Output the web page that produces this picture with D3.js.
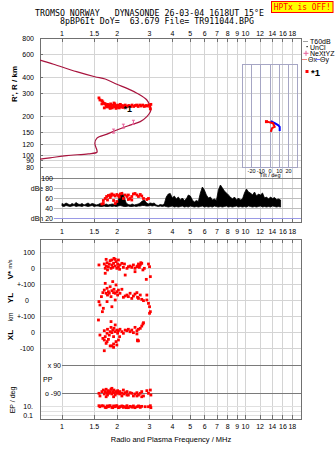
<!DOCTYPE html>
<html><head><meta charset="utf-8">
<script src="https://cdn.jsdelivr.net/npm/d3@7"></script>
<style>body{margin:0;background:#fff}svg{display:block}text{font-family:"Liberation Sans",Arial,sans-serif}</style>
</head><body><svg id="c" width="335" height="451"></svg>
<script>
// ---------- data ----------
const freqTicks = [1,1.5,2,3,4,5,6,7,8,9,10,12,14,16,18];
const heightTicks = [800,600,400,300,200,150,120,100,90,80];
const dbTicks = [100,80,60,40,20];
const dbTickLabels = ["100","dBe 80","60","40","dBn 20"];
const tiltTicks = [-20,-10,0,10,20];

// real-height profile
const profFreq = [0.76,0.90,1.20,1.51,1.72,1.99,2.26,2.56,2.90,3.03,3.05,3.03,2.90,2.67,2.35,1.99,1.76,1.55,1.51,1.55,1.55,1.39,1.06,0.86,0.76];
const profHeight = [540,502,440,402,386,352,327,300,266,236,227,216,198,181,170,156,145,135,123,109,105,102,99,95,93];

// NeXtYZ marks
const nxFreq = [1.91,2.16,2.45];
const nxHeight = [153,167,179];

// O-mode echoes (virtual height)
const echoFreq = [1.59,1.61,1.65,1.67,1.70,1.72,1.74,1.75,1.77,1.78,1.81,1.82,1.84,1.85,1.88,1.89,1.91,1.94,1.95,1.97,2.00,2.02,2.05,2.08,2.10,2.13,2.15,2.18,2.24,2.28,2.32,2.37,2.41,2.46,2.51,2.55,2.60,2.65,2.70,2.75,2.81,2.86,2.91,2.97,3.01,3.03,3.05,1.70,1.65,1.83,1.97,2.05,1.92,2.21];
const echoHeight = [276,266,263,257,250,248,241,235,246,237,243,233,248,239,231,243,237,248,235,241,233,243,237,246,235,241,233,239,235,239,241,237,243,237,241,243,237,243,239,243,237,241,239,243,237,227,246,231,248,229,229,231,252,243];

// amplitude trace (dB)
const ampFreq = [1.000,1.025,1.052,1.078,1.106,1.134,1.163,1.193,1.223,1.254,1.286,1.319,1.353,1.387,1.422,1.459,1.496,1.534,1.573,1.613,1.654,1.696,1.739,1.784,1.829,1.876,1.923,1.972,2.023,2.074,2.127,2.181,2.237,2.294,2.352,2.412,2.474,2.537,2.601,2.668,2.736,2.805,2.877,2.950,3.025,3.103,3.182,3.263,3.346,3.431,3.519,3.608,3.700,3.795,3.891,3.990,4.092,4.196,4.303,4.413,4.525,4.641,4.759,4.880,5.005,5.132,5.263,5.397,5.535,5.676,5.820,5.968,6.121,6.277,6.436,6.600,6.769,6.941,7.118,7.299,7.485,7.676,7.872,8.072,8.278,8.489,8.705,8.927,9.154,9.388,9.627,9.872,10.12,10.38,10.65,10.92,11.20,11.48,11.77,12.07,12.38,12.70,13.02,13.35,13.69,14.04,14.40,14.77,15.14,15.53];
const ampHi = [49,47,50,48,46,49,47,51,48,47,49,46,48,50,47,49,48,46,47,49,
  47,46,48,46,47,48,47,49, 55,68,72,62, 50,47,46,48,46,47,48, 50,54,56,51, 48,50,49,50,46,45, 47,46,48,
  62,68,69,60,64, 58,62,56,60, 55,58,66,64, 56,52,55,53, 70,82,76, 66,60,62,56, 58,55, 76,86,80, 74,70,66,62,
  58,62,56,60, 56,58, 70,78,72, 70,66,72,64,68,66,70, 60,62,58,62,59,61, 57,58,56];
const ampLo = [44,43,45,44,43,44,45,43,44,44,43,45,44,43,44,45,43,44,44,43,
  43,44,43,43,44,43,44,43, 44,45,44,43, 43,44,43,43,44,43,44, 44,45,45,44, 44,45,44,45,44,43, 44,43,44,
  43,42,43,44,42,43,42,43,44,42, 43,42,44,43,42,43,42,43,44,42, 43,42,43,42,44,43,42,43,42,43,
  44,42,43,42,43,44,42,43,42,43, 42,44,43,42,43,42,43,44,42,43, 42,43,42,44,43,42,43,42];

// O-mode echo amplitude
const echoDbFreq = [1.65,1.68,1.72,1.75,1.79,1.83,1.87,1.91,1.95,1.99,2.03,2.08,2.12,1.83,1.95,1.99,1.77,1.68,2.21,2.26,2.30,2.35,2.40,2.45,2.50,2.56,2.61,2.67,2.72,2.78,2.90,2.96,2.40,2.30,2.16,1.91,1.85,2.05];
const echoDb = [48,55,59,63,65,66,68,66,64,67,65,68,69,61,49,53,56,49,66,63,66,59,63,68,69,66,63,67,64,59,57,59,56,57,59,55,64,62];

// V* (m/s)
const vFreq = [1.59,1.70,1.72,1.74,1.76,1.77,1.79,1.81,1.83,1.85,1.87,1.89,1.91,1.92,1.95,1.97,1.99,2.01,2.03,2.06,2.07,2.12,2.16,2.19,2.21,2.26,2.30,2.35,2.40,2.45,2.50,2.56,2.61,2.64,2.67,2.72,2.76,2.81,2.88,2.96,3.00,3.03,1.72,1.74,1.95,1.87,2.03,2.50,2.58,2.69];
const vVal = [19,25,-2,12,33,-12,8,25,46,-2,19,4,29,60,12,40,-2,25,8,-8,19,29,4,25,-44,-2,8,12,4,19,-2,8,25,4,19,29,-12,-2,-71,25,8,-54,-33,54,54,50,50,-23,12,33];

// YL (km)
const ylFreq = [1.59,1.61,1.64,1.67,1.70,1.72,1.74,1.76,1.77,1.79,1.81,1.83,1.85,1.87,1.89,1.91,1.92,1.95,1.97,1.99,2.01,2.03,2.07,2.12,2.16,2.21,2.26,2.30,2.35,2.40,2.45,2.50,2.56,2.58,2.61,2.67,2.72,2.78,2.90,2.96,3.00,3.03,3.00,1.58,1.66,1.68,1.76,1.87,1.95,2.90];
const ylVal = [-10,-31,21,46,62,104,42,73,31,52,42,83,21,58,115,46,67,42,94,52,31,62,42,67,17,25,31,21,42,10,25,37,46,17,10,31,4,-4,0,-21,-42,-73,-83,-125,-73,-52,-10,-42,0,31];

// XL (km)
const xlFreq = [1.61,1.67,1.70,1.70,1.72,1.74,1.76,1.77,1.79,1.81,1.83,1.85,1.87,1.89,1.91,1.92,1.95,1.97,1.99,2.01,2.03,2.06,2.07,2.12,2.16,2.21,2.26,2.30,2.35,2.40,2.45,2.50,2.56,2.58,2.61,2.67,2.72,2.76,2.78,1.85,1.87,1.91,1.99,1.95,2.56,1.70,1.76,1.83,1.91,2.03,2.58,2.61];
const xlVal = [-19,-40,-50,8,-29,-71,-8,17,-46,-19,2,29,-4,12,-29,23,2,-60,12,-8,8,-29,17,2,-8,12,8,17,2,12,-4,29,-12,-50,17,23,37,50,58,65,-87,-96,-81,44,8,-117,-60,-87,-75,-50,-55,-55];

// PP (deg)
const ppFreq = [1.59,1.61,1.65,1.68,1.70,1.72,1.74,1.76,1.77,1.79,1.81,1.83,1.85,1.87,1.89,1.91,1.92,1.95,1.97,1.99,2.01,2.03,2.06,2.07,2.12,2.16,2.18,2.21,2.26,2.30,2.35,2.40,2.45,2.50,2.56,2.61,2.67,2.72,2.78,2.90,2.96,3.03,3.05,1.74,1.87,1.91,2.12,2.26,2.56,2.72];
const ppVal = [-92,-109,-81,-71,-96,-81,-66,-88,-103,-75,-92,-81,-66,-96,-81,-88,-71,-103,-81,-92,-75,-88,-96,-81,-92,-71,-96,-88,-81,-103,-88,-92,-109,-96,-88,-103,-92,-81,-109,-75,-92,-71,-103,-114,-60,-114,-109,-103,-109,-114];

// EP
const epFreq = [1.59,1.61,1.68,1.72,1.76,1.79,1.83,1.87,1.91,1.95,1.99,2.03,2.07,2.12,2.16,2.21,2.26,2.30,2.35,2.40,2.45,2.50,2.56,2.61,2.67,2.72,2.84,2.96,3.03,3.05,1.65,1.74,1.81,1.89,1.97,2.06,2.14,2.24,2.43,2.64];
const epVal = [17,10,15,7,15,10,17,7,15,10,17,6,10,15,7,10,17,6,12,8.5,15,6,10,15,7,12,10,10,17,6,17,6,15,6,15,8.5,12,6,8.5,12];

// tilt traces (deg, km)
const thxDeg = [-3.3,3.3,5.1,2.2,0.8];
const thxHeight = [181,176,165,161,151];
const thyDeg = [0.8,5.1,8.7,10.5,10.5];
const thyHeight = [183,176,170,165,153];

// ---------- drawing ----------
const svg = d3.select("#c");
const L = 40, R = 301, T1 = 38, B1 = 222, T2 = 239, B2 = 419;
const X = d3.scaleLog().domain([1,10]).range([62,245.5]);
const YH = d3.scaleLog().domain([100,1000]).range([155,25.5]);
const YDB = d3.scaleLinear().domain([20,100]).range([218,178]);
const YV = d3.scaleLinear().domain([-100,100]).range([284,252]);
const YYL = d3.scaleLinear().domain([-100,100]).range([316,284]);
const YXL = d3.scaleLinear().domain([-100,100]).range([348,316]);
const YPP = d3.scaleLinear().domain([-90,90]).range([393,365]);
const YEP = d3.scaleLog().domain([0.1,10]).range([415.3,406.7]);
const TX = d3.scaleLinear().domain([-30,30]).range([242.3,297.7]);

const GRID = "#d4d4d4", FRAME = "#707070", RED = "#ff0000";

function hline(y, x1, x2, col, w){ svg.append("line").attr("x1",x1).attr("x2",x2).attr("y1",y).attr("y2",y).attr("stroke",col).attr("stroke-width",w||1).attr("shape-rendering","crispEdges"); }
function vline(x, y1, y2, col, w){ svg.append("line").attr("x1",x).attr("x2",x).attr("y1",y1).attr("y2",y2).attr("stroke",col).attr("stroke-width",w||1).attr("shape-rendering","crispEdges"); }
function txt(s, x, y, opt){ opt = opt||{}; const t = svg.append("text").attr("x",x).attr("y",y).attr("font-size",opt.size||7).attr("text-anchor",opt.anchor||"middle").attr("dominant-baseline","central").attr("fill",opt.fill||"#000").text(s); if(opt.weight) t.attr("font-weight",opt.weight); if(opt.family) t.style("font-family",opt.family); if(opt.pre) t.style("white-space","pre"); if(opt.len) t.attr("textLength",opt.len).attr("lengthAdjust","spacingAndGlyphs"); if(opt.rot) t.attr("transform",`rotate(-90 ${x} ${y})`); return t; }

// header
const MONO = '"DejaVu Sans Mono","Liberation Mono",monospace';
txt("TROMSO NORWAY   DYNASONDE 26-03-04 1618UT 15°E", 35, 12.5, {anchor:"start", size:8.2, family:MONO, pre:true, len:229});
txt("8pBP6It DoY=  63.679 File= TR911044.BPG", 60, 21, {anchor:"start", size:8.2, family:MONO, pre:true, len:194});
svg.append("rect").attr("x",271.5).attr("y",1.5).attr("width",61.5).attr("height",11).attr("fill","#ffff00").attr("stroke",RED).attr("stroke-width",1);
txt("HPTx is OFF!", 302.3, 7.3, {size:8, family:MONO, fill:RED, len:57});

// vertical grid
freqTicks.forEach(f => { vline(X(f), T1, B1, GRID); vline(X(f), T2, B2, GRID); });
// top panel horizontal grid
heightTicks.forEach(h => { if (h < 800) hline(YH(h), L, R, GRID); });
// dB panel lines
dbTicks.forEach((d,i) => {
  const col = d === 100 ? "#858585" : (d === 20 ? "#9a9ae6" : "#bdbdbd");
  hline(YDB(d), d === 100 ? L : 54, R, col);
  txt(dbTickLabels[i], 53, YDB(d), {anchor:"end"});
});
// lower panel grid
[100,0,-100].forEach(v => { hline(YV(v), L, R, GRID); hline(YYL(v), L, R, GRID); hline(YXL(v), L, R, GRID); });
[10,1,0.1].forEach(v => hline(YEP(v), L, R, "#e0e0e0"));
[90,-90].forEach(v => hline(YPP(v), 62, R, "#7a7a7a"));

// frames
svg.append("rect").attr("x",L).attr("y",T1).attr("width",R-L).attr("height",B1-T1).attr("fill","none").attr("stroke",FRAME).attr("shape-rendering","crispEdges");
svg.append("rect").attr("x",L).attr("y",T2).attr("width",R-L).attr("height",B2-T2).attr("fill","none").attr("stroke",FRAME).attr("shape-rendering","crispEdges");
// ticks & frequency labels
freqTicks.forEach(f => {
  vline(X(f), T1, T1+4, FRAME); vline(X(f), B1-3, B1, FRAME);
  vline(X(f), T2, T2+4, FRAME); vline(X(f), B2-4, B2, FRAME);
  txt(String(f), X(f), 33, {});
  txt(String(f), X(f), 231, {});
  txt(String(f), X(f), 426, {});
});
// height labels
heightTicks.forEach(h => { txt(String(h), 34, YH(h), {anchor:"end"}); hline(YH(h), L, L+3, FRAME); });

// tilt inset
const tiltG = svg.append("g");
[-30,-20,-10,0,10,20,30].forEach(d => tiltG.append("line").attr("x1",TX(d)).attr("x2",TX(d)).attr("y1",YH(500)).attr("y2",YH(80)).attr("stroke","#a6a6c4").attr("shape-rendering","crispEdges"));
tiltG.append("line").attr("x1",TX(-30)).attr("x2",TX(30)).attr("y1",YH(500)).attr("y2",YH(500)).attr("stroke","#a6a6c4").attr("shape-rendering","crispEdges");
tiltG.append("line").attr("x1",TX(-30)).attr("x2",TX(30)).attr("y1",YH(80)).attr("y2",YH(80)).attr("stroke","#a6a6c4").attr("shape-rendering","crispEdges");
tiltTicks.forEach(d => txt(String(d), TX(d), 170.5, {size:5.5}));
txt("Tilt / deg", TX(0), 175, {size:5.5});
const tline = d3.line().x(d => TX(d[0])).y(d => YH(d[1]));
svg.append("path").attr("d", tline(thyDeg.map((d,i)=>[d,thyHeight[i]]))).attr("fill","none").attr("stroke","#0000ff").attr("stroke-width",2);
svg.append("path").attr("d", tline(thxDeg.map((d,i)=>[d,thxHeight[i]]))).attr("fill","none").attr("stroke",RED).attr("stroke-width",2);
svg.append("rect").attr("x",TX(thxDeg[0])-2).attr("y",YH(thxHeight[0])-1.5).attr("width",3).attr("height",3).attr("fill",RED);

// clip for top panel
svg.append("clipPath").attr("id","ctop").append("rect").attr("x",L).attr("y",T1).attr("width",R-L).attr("height",178-T1);
const topG = svg.append("g").attr("clip-path","url(#ctop)");
const pline = d3.line().x(d => X(d[0])).y(d => YH(d[1])).curve(d3.curveCatmullRom.alpha(0.5));
topG.append("path").attr("d", pline(profFreq.map((f,i)=>[f,profHeight[i]]))).attr("fill","none").attr("stroke","#a8143e").attr("stroke-width",1.2);
nxFreq.forEach((f,i) => {
  const x = X(f), y = YH(nxHeight[i]);
  const g = topG.append("g").attr("stroke","#e8609a").attr("stroke-width",1);
  g.append("line").attr("x1",x).attr("x2",x).attr("y1",y-2).attr("y2",y+2);
  g.append("line").attr("x1",x-1.5).attr("x2",x+1.5).attr("y1",y-2).attr("y2",y-2);
  g.append("line").attr("x1",x-1.5).attr("x2",x+1.5).attr("y1",y+2).attr("y2",y+2);
});
echoFreq.forEach((f,i) => topG.append("rect").attr("x",X(f)-1.4).attr("y",YH(echoHeight[i])-1.4).attr("width",2.8).attr("height",2.8).attr("fill",RED));
txt("*1", X(2.21)+2.5, YH(231)+1, {size:9, weight:"bold"});

// amplitude trace as a jagged filled band
const ampArea = d3.area().x(d => X(d[0])).y0(d => YDB(d[1])).y1(d => YDB(d[2]));
svg.append("path").attr("d", ampArea(ampFreq.map((f,i)=>[f,ampLo[i],ampHi[i]]))).attr("fill","#000").attr("stroke","#000").attr("stroke-width",0.8);
echoDbFreq.forEach((f,i) => svg.append("rect").attr("x",X(f)-1.4).attr("y",YDB(echoDb[i])-1.4).attr("width",2.8).attr("height",2.8).attr("fill",RED));

// lower panel scatter
function dots(fs, vs, sc){ fs.forEach((f,i) => svg.append("rect").attr("x",X(f)-1.4).attr("y",sc(vs[i])-1.4).attr("width",2.8).attr("height",2.8).attr("fill",RED)); }
dots(vFreq, vVal, YV); dots(ylFreq, ylVal, YYL); dots(xlFreq, xlVal, YXL); dots(ppFreq, ppVal, YPP); dots(epFreq, epVal, YEP);

// lower panel labels
txt("100", 35, YV(100), {anchor:"end"});
txt("0", 35, YV(0), {anchor:"end"});
txt("+-100", 35, YYL(100), {anchor:"end"});
txt("0", 27, YYL(0), {});
txt("+-100", 35, YYL(-100), {anchor:"end"});
txt("0", 35, YXL(0), {anchor:"end"});
txt("-100", 34, YXL(-100), {anchor:"end"});
txt("x 90", 61, YPP(90), {anchor:"end"});
txt("PP", 43, 379, {anchor:"start"});
txt("o -90", 61, YPP(-90), {anchor:"end"});
txt("10.", 33, YEP(10), {anchor:"end"});
txt("0.1", 33, YEP(0.1), {anchor:"end"});

// rotated axis titles
txt("R', R / km", 14, 84, {size:8, weight:"bold", rot:true});
txt("V*", 10, 275, {size:8, weight:"bold", rot:true});
txt("m/s", 10, 264, {size:5.5, rot:true});
txt("YL", 10, 298, {size:8, weight:"bold", rot:true});
txt("km", 10, 317, {size:6.5, rot:true});
txt("XL", 10, 335, {size:8, weight:"bold", rot:true});
txt("EP / deg", 12, 400, {size:7, rot:true});
txt("Radio and Plasma Frequency / MHz", 171, 439, {size:7.5});

// legend
hline(41.5, 303, 308, "#a0a0a0");
txt("T60dB", 310, 41.5, {anchor:"start", size:7});
svg.append("rect").attr("x",306.5).attr("y",46).attr("width",1.2).attr("height",1.2).attr("fill","#000");
txt("UnCl", 310, 47, {anchor:"start", size:7});
svg.append("line").attr("x1",303.5).attr("x2",308.5).attr("y1",53.3).attr("y2",53.3).attr("stroke","#e8609a");
svg.append("line").attr("x1",306).attr("x2",306).attr("y1",50.8).attr("y2",55.8).attr("stroke","#e8609a");
txt("NeXtYZ", 310, 53.3, {anchor:"start", size:7});
hline(59.5, 302, 307, "#f08080");
txt("Θx", 308, 59.5, {anchor:"start", size:7});
hline(59.5, 315, 319.5, "#7070ff");
txt("Θy", 320, 59.5, {anchor:"start", size:7});
svg.append("rect").attr("x",305.5).attr("y",70).attr("width",3).attr("height",3).attr("fill",RED);
txt("*1", 311, 72, {anchor:"start", size:9.5, weight:"bold"});
</script></body></html>
